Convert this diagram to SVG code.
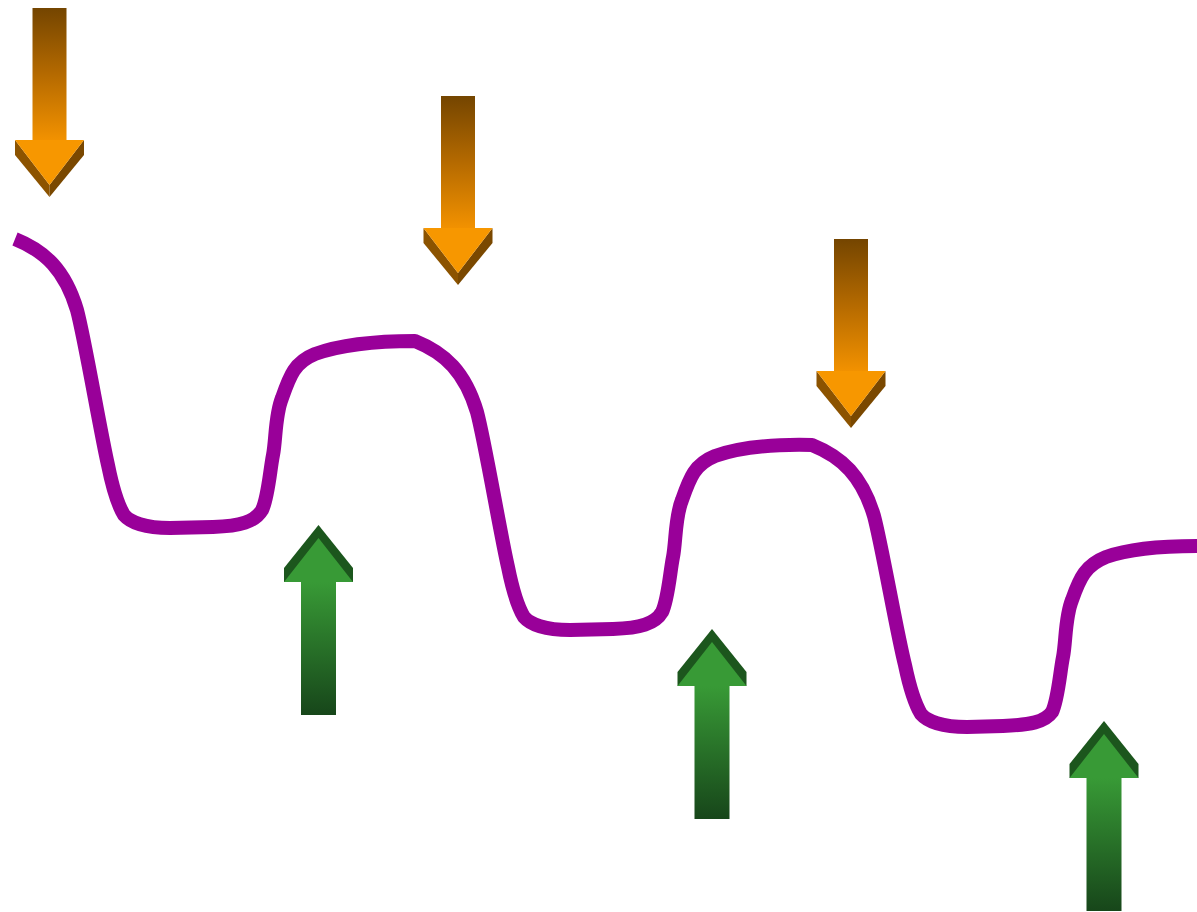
<svg xmlns="http://www.w3.org/2000/svg" width="1197" height="912" viewBox="0 0 1197 912">
<style>
.curve{fill:none;stroke:#990099;stroke-width:14;stroke-linejoin:round;stroke-linecap:butt}
.dshaft{fill:url(#gDown)}
.dfront{fill:#f79700}
.dbevelL{fill:#8c5300}
.dbevelR{fill:#7a4800}
.ushaft{fill:url(#gUp)}
.ufront{fill:#389a36}
.ubevel{fill:#1c561d}
</style>
<defs>
<linearGradient id="gDown" x1="0" y1="0" x2="0" y2="1">
<stop offset="0" stop-color="#744500"/>
<stop offset="0.5" stop-color="#b56a00"/>
<stop offset="1" stop-color="#f39200"/>
</linearGradient>
<linearGradient id="gUp" x1="0" y1="0" x2="0" y2="1">
<stop offset="0" stop-color="#389a36"/>
<stop offset="1" stop-color="#17461a"/>
</linearGradient>
<g id="downArrow">
<rect class="dshaft" x="-17" y="0" width="34" height="133"/>
<polygon class="dbevelL" points="-34.5,132 0,177 0,189 -34.5,147"/>
<polygon class="dbevelR" points="34.5,132 0,177 0,189 34.5,147"/>
<polygon class="dfront" points="-34.5,132 34.5,132 0,177"/>
</g>
<g id="upArrow">
<polygon class="ubevel" points="0,0 34.5,43 34.5,57 -34.5,57 -34.5,43"/>
<polygon class="ufront" points="0,13 34.5,57 -34.5,57"/>
<rect class="ushaft" x="-17.5" y="57" width="35" height="133"/>
</g>
</defs>
<g id="connectors">
<path class="curve" d="M15,239 C45,251 65,270 77,310 C85,340 100,430 108,465 C113,490 118,505 124,515 C130,522 145,528 170,528 L213,527 C240,526 255,522 262,510 C268,498 270,470 273,455 C276,440 275,415 282,398 C290,375 295,362 315,354 C340,345 370,341 415,341 C445,353 465,372 477,412 C485,442 500,532 508,567 C513,592 518,607 524,617 C530,624 545,630 570,630 L613,629 C640,628 655,624 662,612 C668,600 670,572 673,557 C676,542 675,517 682,500 C690,477 695,464 715,456 C740,447 770,444 812,445 C842,457 862,476 874,516 C882,546 897,634 905,665 C910,689 915,704 921,714 C927,721 942,727 967,727 L1003,726 C1030,725 1045,722 1052,712 C1058,700 1060,672 1063,657 C1066,642 1065,617 1072,600 C1080,577 1086,565 1106,557 C1131,548 1163,546 1197,546"/>
</g>
<g id="down1"><use href="#downArrow" transform="translate(49.5,8)"/></g>
<g id="down2"><use href="#downArrow" transform="translate(458,96)"/></g>
<g id="down3"><use href="#downArrow" transform="translate(851,239)"/></g>
<g id="up1"><use href="#upArrow" transform="translate(318.5,525)"/></g>
<g id="up2"><use href="#upArrow" transform="translate(712,629)"/></g>
<g id="up3"><use href="#upArrow" transform="translate(1104,721)"/></g>
</svg>
